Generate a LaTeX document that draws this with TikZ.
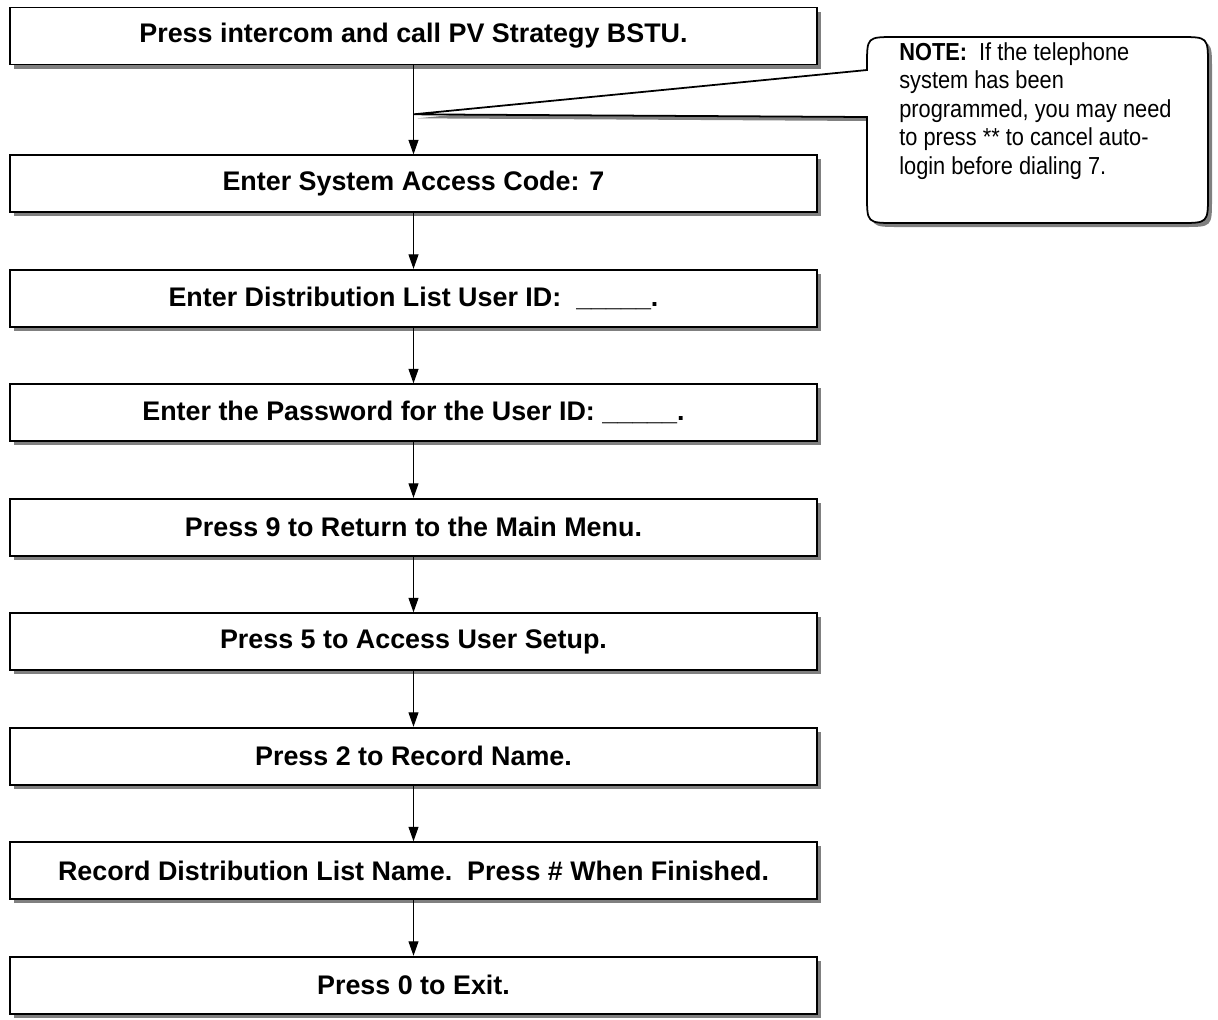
\documentclass[tikz,border=0pt]{standalone}
\usepackage{fontspec}
\setmainfont{Liberation Sans}
\newfontfamily\notefont[FakeStretch=0.885]{Liberation Sans}
\usetikzlibrary{arrows.meta,positioning,calc,shadows}

\begin{document}
\begin{tikzpicture}[x=0.02cm,y=-0.02cm,>={Triangle[length=0.29cm,width=0.2cm]},
  node distance=1.115cm,
  boxshadow/.style={drop shadow={shadow xshift=0.08cm,shadow yshift=-0.08cm,fill=black!50,opacity=1}},
  stage/.style={draw,line width=1pt,fill=white,boxshadow,minimum width=16.14cm,
    minimum height=1.14cm,inner sep=0pt,font=\fontsize{15.3}{18}\selectfont\bfseries},
  link/.style={->,line width=0.6pt}]

  \useasboundingbox (0,0) rectangle (1218,1019);

  \node[stage] (b1) at (413.5,36) {Press intercom and call PV Strategy BSTU.};
  \node[stage,below=1.78cm of b1] (b2) {Enter System Access Code: 7};
  \node[stage,below=of b2] (b3) {Enter Distribution List User ID:\ \ \_\_\_\_\_.};
  \node[stage,below=of b3] (b4) {Enter the Password for the User ID: \_\_\_\_\_.};
  \node[stage,below=of b4] (b5) {Press 9 to Return to the Main Menu.};
  \node[stage,below=of b5] (b6) {Press 5 to Access User Setup.};
  \node[stage,below=of b6] (b7) {Press 2 to Record Name.};
  \node[stage,below=of b7] (b8) {Record Distribution List Name.\ \ Press \# When Finished.};
  \node[stage,below=of b8] (b9) {Press 0 to Exit.};

  % callout
  \coordinate (tip) at ($(b1.south)!0.55!(b2.north)$);
  \draw[line width=1pt,fill=white,boxshadow] (867,117) -- (867,195)
    .. controls (867,223) .. (895,223) -- (1180,223)
    .. controls (1208,223) .. (1208,195) -- (1208,65)
    .. controls (1208,37) .. (1180,37) -- (895,37)
    .. controls (867,37) .. (867,65) -- (867,70) -- (tip) -- cycle;
  \node[anchor=north west,align=left,inner sep=0pt,
    font=\notefont\fontsize{14}{16.2}\selectfont] (note) at (899,42)
    {\textbf{NOTE:}\ \ If the telephone\\system has been\\programmed, you may need\\
     to press ** to cancel auto-\\login before dialing 7.};

  \path[link] (b1) edge (b2) (b2) edge (b3) (b3) edge (b4) (b4) edge (b5)
    (b5) edge (b6) (b6) edge (b7) (b7) edge (b8) (b8) edge (b9);
\end{tikzpicture}
\end{document}
